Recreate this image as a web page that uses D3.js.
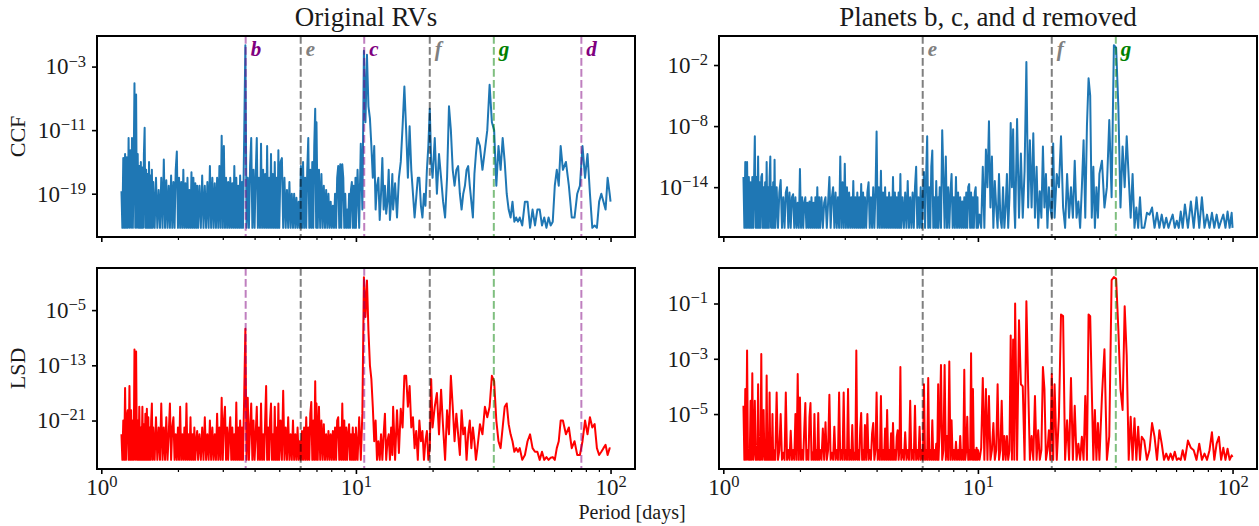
<!DOCTYPE html>
<html>
<head>
<meta charset="utf-8">
<script src="https://cdn.jsdelivr.net/npm/d3@7"></script>
<style>
  body { margin: 0; background: #fff; }
  svg { display: block; }
  text { font-family: "Liberation Serif", "Times New Roman", serif; fill: #1a1a1a; }
</style>
</head>
<body>
<svg id="chart" width="1259" height="526"></svg>
<script>
// ---------------------------------------------------------------------------
// Periodogram data: shared period grid (days) and the four power series
// ---------------------------------------------------------------------------
const periods = [
  1.20,1.21,1.22,1.23,1.24,1.25,1.26,1.27,1.28,1.29,1.30,1.31,1.32,1.33,1.34,1.35,1.36,1.37,1.38,1.39,
  1.40,1.41,1.42,1.43,1.44,1.45,1.46,1.47,1.48,1.49,1.50,1.51,1.52,1.53,1.54,1.55,1.56,1.57,1.58,1.59,
  1.60,1.62,1.64,1.66,1.68,1.70,1.72,1.74,1.76,1.78,1.80,1.82,1.84,1.86,1.88,1.90,1.92,1.94,1.96,1.98,
  2.00,2.02,2.04,2.06,2.08,2.10,2.12,2.14,2.16,2.18,2.20,2.22,2.24,2.26,2.28,2.30,2.32,2.34,2.36,2.38,
  2.40,2.43,2.46,2.49,2.52,2.55,2.58,2.61,2.64,2.67,2.70,2.73,2.76,2.79,2.82,2.85,2.88,2.91,2.94,2.97,
  3.00,3.03,3.06,3.09,3.12,3.15,3.18,3.21,3.24,3.27,3.30,3.33,3.36,3.39,3.42,3.45,3.48,3.51,3.54,3.57,
  3.60,3.64,3.68,3.72,3.76,3.80,3.84,3.88,3.92,3.96,4.00,4.04,4.08,4.12,4.16,4.20,4.24,4.28,4.32,4.36,
  4.40,4.44,4.48,4.52,4.56,4.60,4.64,4.68,4.72,4.76,4.80,4.84,4.88,4.92,4.96,
  5.00,5.06,5.12,5.18,5.24,5.30,5.36,5.42,5.48,5.54,5.60,5.66,5.72,5.78,5.84,5.90,5.96,6.02,6.08,6.14,
  6.20,6.26,6.32,6.38,6.44,6.50,6.56,6.62,6.68,6.74,6.80,6.86,6.92,6.98,
  7.00,7.08,7.16,7.24,7.32,7.40,7.48,7.56,7.64,7.72,7.80,7.88,7.96,8.04,8.12,8.20,8.28,8.36,8.44,8.52,
  8.60,8.68,8.76,8.84,8.92,9.00,9.08,9.16,9.24,9.32,9.40,9.48,9.56,9.64,9.72,9.80,9.88,9.96,
  10.00,10.15,10.30,10.45,10.60,10.75,10.90,11.05,11.20,11.35,11.50,11.65,11.80,11.95,12.10,12.25,12.40,12.55,12.70,12.85,
  13.00,13.15,13.30,13.45,13.60,13.75,13.90,
  14.00,14.25,14.50,14.75,15.00,15.25,15.50,15.75,16.00,16.25,16.50,16.75,17.00,17.25,17.50,17.75,18.00,18.25,18.50,18.75,
  19.00,19.25,19.50,19.75,
  20.0,20.4,20.8,21.2,21.6,22.0,22.4,22.8,23.2,23.6,24.0,24.4,24.8,25.2,25.6,26.0,26.4,26.8,27.2,27.6,
  28.0,28.4,28.8,29.2,29.6,
  30.0,30.7,31.4,32.1,32.8,33.5,34.2,34.9,35.6,36.3,37.0,37.7,38.4,39.1,39.8,40.5,41.2,41.9,42.6,43.3,44.0,
  45.0,46.1,47.2,48.3,49.4,50.5,51.6,52.7,53.8,54.9,56.0,57.1,58.2,59.3,60.4,61.5,62.6,63.7,
  65.0,66.8,68.6,70.4,72.2,74.0,75.8,77.6,79.4,81.2,83.0,84.8,86.6,88.4,90.2,92.0,93.8,95.6,97.4,99.2,100.0
];

// CCF periodogram of the original RVs
const ccfOriginal = [
  2e-19,5e-24,3e-15,5e-24,1e-14,5e-24,4e-15,5e-24,1e-12,5e-24,
  3e-14,5e-24,1e-12,5e-24,2e-16,8e-6,5e-24,3e-7,5e-24,1e-14,
  5e-24,3e-16,5e-24,1e-15,5e-24,2e-16,5e-24,1e-14,2e-11,5e-24,
  1e-16,5e-24,3e-17,5e-24,1e-15,5e-24,2e-17,5e-24,1e-16,5e-24,
  3e-18,5e-24,1e-17,5e-24,3e-19,5e-24,1e-17,5e-24,2e-15,5e-24,
  5e-18,5e-24,1e-18,5e-24,2e-17,5e-24,3e-18,5e-24,1e-16,2e-14,
  5e-24,1e-17,5e-24,3e-18,5e-24,1e-16,5e-24,2e-18,5e-24,1e-17,
  5e-24,3e-19,5e-24,5e-17,5e-24,1e-17,5e-24,2e-18,5e-24,1e-18,
  5e-24,1e-18,5e-24,2e-17,5e-24,1e-18,5e-24,3e-18,5e-24,3e-16,
  5e-24,1e-17,5e-24,2e-18,5e-24,1e-17,5e-24,3e-16,5e-24,2e-12,
  5e-24,1e-13,5e-24,1e-17,5e-24,3e-18,5e-24,1e-17,5e-24,2e-18,
  5e-24,3e-16,5e-24,1e-17,5e-24,1e-18,5e-24,2e-17,5e-24,3e-18,
  5e-24,1e-12,5e-1,5e-24,1e-17,5e-24,3e-16,1e-12,5e-24,1e-16,
  5e-24,3e-17,1e-12,5e-24,1e-17,5e-24,2e-13,5e-24,1e-16,5e-24,
  3e-17,5e-24,1e-13,5e-24,1e-17,5e-24,1e-14,5e-24,3e-17,5e-24,
  1e-15,5e-24,1e-17,5e-24,3e-14,
  5e-24,1e-15,3e-15,5e-24,1e-17,5e-24,3e-19,5e-24,3e-18,5e-24,
  1e-19,5e-24,1e-19,5e-24,3e-20,5e-24,1e-20,5e-24,3e-16,5e-24,
  1e-15,5e-24,1e-17,5e-24,1e-16,1e-12,5e-24,1e-16,5e-24,1e-15,
  5e-24,1e-13,5e-9,5e-24,
  1e-10,5e-24,1e-16,5e-24,3e-17,5e-24,1e-18,5e-24,3e-19,5e-24,
  1e-19,5e-24,1e-20,5e-24,3e-21,5e-24,1e-19,5e-24,1e-17,3e-16,
  5e-24,5e-16,5e-24,5e-16,1e-17,5e-24,1e-19,5e-24,1e-21,5e-24,
  1e-19,5e-24,3e-19,3e-18,5e-24,1e-18,5e-24,1e-17,
  5e-24,1e-16,5e-24,2e-13,1e-21,1e-1,1e-10,3e-2,1e-8,3e-10,
  1e-13,1e-17,1e-13,1e-21,1e-18,1e-17,5e-23,1e-19,3e-15,1e-21,
  1e-18,3e-22,1e-20,1e-16,5e-23,1e-20,3e-17,
  1e-21,2e-18,1e-22,1e-17,1e-15,3e-11,3e-6,1e-11,1e-17,3e-11,
  1e-16,1e-19,1e-22,3e-20,1e-17,1e-17,3e-21,1e-22,1e-19,3e-21,
  1e-16,1e-13,5e-9,1e-15,
  1e-17,1e-12,1e-19,1e-14,1e-17,1e-20,1e-22,1e-17,1e-8,1e-11,
  1e-16,1e-18,1e-16,3e-16,1e-19,1e-21,1e-19,1e-18,1e-16,3e-16,
  1e-18,1e-20,1e-22,3e-17,1e-14,
  1e-12,1e-13,1e-16,3e-14,1e-11,5e-6,1e-10,1e-11,1e-18,1e-13,
  1e-16,1e-12,1e-15,1e-19,1e-21,1e-22,1e-20,3e-23,1e-22,3e-23,1e-22,
  1e-23,1e-20,1e-20,5e-24,1e-21,1e-23,1e-21,1e-21,1e-23,1e-22,
  5e-24,1e-22,1e-23,3e-23,1e-18,1e-16,1e-18,1e-13,
  1e-16,1e-15,1e-18,1e-22,1e-22,1e-19,1e-18,1e-13,1e-17,1e-14,
  1e-19,5e-24,1e-23,5e-24,1e-20,1e-19,1e-20,1e-21,1e-17,1e-19,1e-20
];

// CCF periodogram after removing planets b, c and d
const ccfResidual = [
  1e-13,1e-18,3e-12,1e-18,3e-12,1e-18,1e-13,1e-18,3e-14,1e-18,
  1e-13,1e-18,3e-14,1e-9,1e-18,1e-13,1e-18,1e-11,1e-18,3e-14,
  1e-18,1e-13,2e-13,1e-18,1e-14,1e-18,3e-14,1e-18,3e-12,1e-18,
  1e-14,1e-18,1e-13,1e-11,1e-18,1e-14,1e-18,3e-14,1e-18,5e-12,
  1e-18,1e-14,1e-18,3e-15,5e-14,1e-18,1e-15,1e-18,3e-15,1e-14,
  1e-18,3e-15,1e-18,1e-15,2e-15,1e-18,1e-15,1e-18,3e-16,1e-18,
  6e-13,1e-18,1e-15,1e-18,3e-16,1e-15,1e-18,3e-16,1e-18,4e-16,
  1e-18,1e-15,1e-18,3e-16,1e-18,1e-15,1e-18,1e-14,1e-18,1e-15,
  1e-18,1e-15,1e-18,3e-16,1e-15,1e-18,3e-16,1e-13,1e-18,1e-15,
  1e-14,1e-18,3e-15,1e-18,1e-15,1e-18,1e-11,1e-18,3e-14,1e-18,
  2e-12,1e-18,1e-14,1e-18,3e-15,1e-18,1e-15,1e-18,4e-14,1e-18,
  1e-15,1e-18,3e-15,1e-18,1e-15,1e-18,2e-14,1e-18,3e-15,1e-18,
  1e-15,1e-18,3e-15,3e-14,1e-18,1e-15,1e-18,1e-14,1e-18,3e-15,
  3e-9,1e-18,1e-14,1e-18,4e-13,1e-18,3e-15,1e-18,1e-14,1e-18,
  1e-15,1e-18,3e-15,1e-18,1e-15,1e-18,1e-13,1e-18,3e-15,1e-18,
  1e-15,1e-18,3e-15,1e-18,2e-13,
  1e-18,1e-15,1e-18,3e-15,1e-18,4e-14,1e-18,1e-15,1e-18,3e-15,
  1e-18,1e-14,1e-12,1e-18,1e-15,1e-18,1e-14,1e-18,1e-15,3e-13,
  1e-18,1e-13,1e-9,1e-18,1e-14,1e-18,1e-12,4e-11,1e-18,1e-15,
  1e-18,4e-14,1e-18,1e-15,
  1e-18,1e-14,1e-18,4e-9,1e-13,1e-18,1e-11,1e-18,1e-14,1e-18,
  3e-15,2e-13,1e-18,1e-15,1e-18,1e-13,1e-18,3e-15,1e-18,1e-15,
  1e-18,4e-16,1e-18,1e-15,1e-18,3e-15,1e-18,1e-14,2e-14,1e-18,
  3e-15,1e-18,1e-15,1e-18,3e-15,1e-14,1e-18,1e-15,
  1e-18,2e-17,1e-18,1e-12,1e-18,5e-11,1e-14,3e-8,1e-16,1e-11,
  1e-18,4e-14,1e-16,1e-18,2e-13,1e-17,1e-18,1e-14,1e-18,1e-16,
  2e-13,1e-18,1e-15,2e-8,1e-14,5e-9,1e-16,
  1e-18,5e-8,1e-17,2e-11,1e-17,4e-13,2e-2,1e-16,4e-10,1e-16,
  2e-9,1e-17,1e-12,1e-18,4e-15,1e-17,1e-10,1e-16,2e-13,1e-18,
  1e-14,1e-16,1e-17,2e-10,
  1e-17,2e-13,1e-14,1e-9,1e-16,1e-18,2e-13,1e-17,1e-14,1e-17,
  4e-12,1e-17,4e-16,1e-18,1e-14,4e-10,1e-17,1e-8,5e-4,1e-5,
  1e-17,1e-12,1e-18,1e-14,1e-17,
  2e-13,4e-12,1e-16,1e-14,4e-8,1e-15,9e-1,5e-1,1e-6,1e-16,
  1e-10,1e-14,1e-9,1e-13,1e-17,2e-13,1e-18,1e-16,1e-18,1e-15,1e-18,
  1e-18,3e-17,2e-17,1e-16,1e-18,3e-17,1e-18,2e-17,1e-18,1e-17,
  1e-18,5e-18,2e-17,1e-18,5e-18,1e-18,4e-17,1e-18,
  2e-16,1e-18,4e-16,1e-18,1e-15,1e-18,1e-15,1e-18,2e-17,1e-18,
  3e-17,1e-18,2e-17,1e-18,5e-18,2e-17,1e-18,4e-17,1e-18,3e-17,1e-18
];

// LSD periodogram of the original RVs
const lsdOriginal = [
  1e-23,2e-27,1e-21,2e-27,5e-17,2e-27,3e-21,3e-20,2e-27,1e-16,
  2e-27,3e-20,2e-27,1e-21,2e-27,2e-11,2e-27,1e-11,2e-27,1e-21,
  2e-27,1e-19,2e-27,1e-22,2e-27,1e-19,2e-27,3e-22,2e-27,1e-20,
  2e-27,5e-20,2e-27,3e-21,2e-27,1e-22,2e-27,1e-21,3e-19,2e-27,
  1e-22,2e-27,3e-21,2e-27,1e-22,2e-27,3e-19,2e-27,1e-22,2e-27,
  3e-21,2e-27,1e-23,3e-19,2e-27,1e-22,3e-21,2e-27,1e-23,2e-27,
  1e-22,2e-27,1e-19,2e-27,1e-23,2e-27,1e-22,2e-27,3e-19,2e-27,
  1e-23,2e-27,3e-21,2e-27,1e-23,2e-27,1e-22,2e-27,1e-24,3e-23,
  2e-27,1e-23,2e-27,1e-22,2e-27,3e-21,2e-27,1e-23,2e-27,1e-21,
  2e-27,1e-22,2e-27,1e-23,2e-27,1e-20,2e-27,1e-22,2e-27,2e-18,
  2e-27,1e-21,1e-19,2e-27,1e-22,2e-27,1e-23,3e-21,2e-27,1e-22,
  2e-27,1e-23,2e-27,4e-19,2e-27,1e-22,2e-27,1e-21,2e-27,1e-22,
  2e-27,2e-18,2e-8,2e-27,2e-18,2e-27,1e-22,3e-19,2e-27,1e-21,
  2e-27,1e-23,1e-19,2e-27,1e-22,2e-27,3e-19,2e-27,1e-23,2e-27,
  1e-21,1e-16,2e-27,1e-22,2e-27,1e-21,3e-19,2e-27,1e-23,2e-27,
  1e-19,2e-27,1e-22,2e-27,3e-19,
  2e-27,1e-21,2e-27,2e-17,2e-27,1e-22,2e-27,3e-21,2e-27,1e-23,
  2e-27,1e-21,2e-27,1e-23,2e-27,1e-22,2e-27,1e-24,2e-27,3e-23,
  2e-27,1e-22,2e-27,3e-21,2e-27,1e-22,2e-27,1e-20,5e-19,2e-27,
  1e-21,2e-27,5e-16,2e-27,
  3e-19,2e-27,1e-19,2e-27,1e-21,2e-27,3e-22,2e-27,1e-23,2e-27,
  3e-23,2e-27,1e-23,2e-27,3e-23,2e-27,1e-22,2e-27,1e-21,3e-21,
  2e-27,1e-22,2e-27,3e-19,2e-27,1e-21,2e-27,1e-22,2e-27,1e-23,
  3e-22,2e-27,1e-23,2e-27,1e-22,2e-27,1e-23,2e-27,
  1e-22,2e-27,3e-21,2e-27,1e-20,6e-1,1e-6,2e-1,1e-8,1e-13,
  1e-15,1e-19,1e-24,1e-21,2e-27,1e-24,2e-27,1e-23,2e-27,1e-23,
  1e-20,2e-27,1e-24,1e-23,2e-27,1e-22,1e-26,
  1e-19,2e-27,3e-20,2e-26,5e-20,1e-22,3e-15,3e-15,1e-19,1e-16,
  1e-22,3e-21,1e-25,3e-23,2e-27,1e-21,1e-24,3e-23,2e-27,1e-24,
  3e-23,2e-27,1e-25,1e-15,
  1e-22,1e-19,1e-17,1e-23,3e-17,1e-22,2e-27,3e-20,1e-23,3e-15,
  1e-19,1e-24,1e-20,1e-23,1e-26,3e-20,1e-23,1e-22,2e-27,1e-23,
  1e-21,1e-25,1e-22,1e-24,2e-27,
  1e-25,3e-22,1e-23,1e-19,3e-21,1e-19,3e-15,5e-16,1e-21,1e-24,
  1e-25,1e-22,1e-19,3e-19,3e-22,1e-23,1e-24,3e-26,1e-25,3e-26,1e-25,
  2e-27,1e-26,1e-24,1e-23,1e-25,3e-26,3e-26,2e-27,3e-26,2e-27,
  5e-27,2e-27,4e-27,5e-27,2e-27,1e-25,1e-24,1e-21,
  1e-21,1e-23,1e-22,1e-25,1e-24,1e-26,1e-26,1e-24,1e-21,1e-23,
  3e-21,1e-22,3e-22,1e-25,1e-26,3e-26,1e-25,3e-25,1e-26,1e-25,1e-25
];

// LSD periodogram after removing planets b, c and d
const lsdResidual = [
  2e-5,2.2e-7,8e-5,2.2e-7,2e-3,2.2e-7,5e-7,2.2e-7,3e-5,2.2e-7,
  3e-4,2.2e-7,5e-7,3e-5,2.2e-7,5e-7,2.2e-7,1.2e-4,2.2e-7,5e-7,
  2.2e-7,1.5e-3,2.2e-7,5e-7,1.4e-5,2.2e-7,5e-7,2.2e-7,2.5e-4,2.2e-7,
  5e-7,2.2e-7,6e-5,2.2e-7,4e-7,2.2e-7,1e-5,2.2e-7,5e-7,2.2e-7,
  2.2e-7,6e-5,2.2e-7,5e-7,1e-5,2.2e-7,4e-7,2.2e-7,6e-5,2.2e-7,
  5e-7,2.2e-7,2.5e-6,2.2e-7,5e-7,2.2e-7,1e-5,2.2e-7,2.8e-4,2.2e-7,
  4e-5,2.2e-7,5e-7,2.2e-7,3e-6,2.5e-5,2.2e-7,5e-7,2.2e-7,8e-6,
  2.5e-5,2.2e-7,4e-7,2.2e-7,1e-5,2.2e-7,5e-7,2.2e-7,1.1e-5,2.2e-7,
  5e-7,2.2e-7,3e-6,2.2e-7,5e-6,2.2e-7,5e-7,5e-5,2.2e-7,4e-7,
  2.2e-7,3.5e-6,2.2e-7,5e-7,2.2e-7,6e-5,2.2e-7,5e-7,2.2e-7,6e-5,
  2.2e-7,5e-7,2.2e-7,8e-5,2.2e-7,5e-7,2.2e-7,4e-6,2.2e-7,4e-7,
  2.2e-7,2e-3,2.2e-7,5e-7,2.2e-7,3e-6,1.1e-5,2.2e-7,5e-7,2.2e-7,
  4e-6,2.2e-7,1e-5,2.2e-7,5e-7,2.2e-7,2e-6,4.7e-6,2.2e-7,5e-7,
  6e-5,2.2e-7,5e-7,2.2e-7,4.5e-5,2.2e-7,5e-7,2.2e-7,3e-6,2.2e-7,
  1.4e-5,2.2e-7,5e-7,2.2e-7,2e-6,2.2e-7,4.7e-6,2.2e-7,5e-7,2.2e-7,
  1.5e-6,2.6e-6,2.2e-7,5e-7,5e-4,
  2.2e-7,5e-7,2.2e-7,2.2e-6,2.2e-7,5e-7,2.2e-7,3e-5,2.2e-7,5e-7,
  2.2e-7,2e-5,2.2e-7,5e-7,2.2e-7,3.5e-6,2.2e-7,5e-7,2.2e-7,1.2e-4,
  2.2e-7,5e-7,2.2e-7,2e-4,2.2e-7,5e-7,2.2e-7,6e-6,2.2e-7,5e-7,
  2.2e-7,8.5e-7,2.2e-7,1.2e-4,
  2.2e-7,3e-6,6e-4,2.2e-7,5e-7,6e-4,2.2e-7,1.6e-6,2.2e-7,8e-4,
  2.2e-7,6e-6,2.2e-7,5e-7,2.2e-7,1e-6,2.2e-7,5e-7,2.2e-7,1.6e-6,
  2.2e-7,5e-7,2.2e-7,4e-4,2.2e-7,5e-7,8e-6,2.2e-7,5e-7,2.2e-7,
  1.6e-3,2.2e-7,8e-5,2.2e-7,5e-7,2.2e-7,6e-7,2.2e-7,
  5e-7,2.2e-7,6e-7,2e-4,2.2e-7,8e-5,2.2e-7,4.5e-5,2.2e-7,5e-7,
  4.7e-6,2.2e-7,5e-7,1.2e-4,2.2e-7,5e-7,3e-5,2.2e-7,1.6e-6,2.2e-7,
  1.6e-6,2.2e-7,5e-7,7e-3,2.2e-7,5e-3,2.2e-7,
  1e-1,2.2e-7,2.5e-2,1.2e-4,1e-4,2.2e-7,1.2e-1,1.2e-4,2.2e-7,1.6e-6,
  2.2e-7,4.5e-5,2.2e-7,2.6e-6,2.2e-7,5e-7,5e-4,8e-5,2.2e-7,5e-7,
  2.6e-6,2.2e-7,2.8e-4,2.2e-7,
  1.2e-4,2.2e-7,8e-6,4e-2,3.5e-2,2.2e-7,6e-6,2.2e-7,2e-4,2.2e-7,
  2e-5,2.2e-7,8.5e-7,2.2e-7,1.5e-6,2.2e-7,4.5e-5,2.2e-7,4e-2,3.5e-2,
  8e-5,2.2e-7,1.4e-5,2.2e-7,4.7e-6,
  2.2e-7,4.5e-5,2.2e-3,2.2e-7,1.6e-6,7e-1,9e-1,8e-1,1.2e-2,8e-5,
  1.4e-5,8e-2,1.3e-3,2.2e-7,8e-6,2.2e-7,7e-6,2.2e-7,3.5e-6,2.2e-7,1.5e-6,
  1.1e-6,2.2e-7,5e-7,4.7e-6,1.5e-6,2.2e-7,2.6e-6,8.5e-7,2.2e-7,3.7e-7,
  2.2e-7,3.7e-7,2.2e-7,4.3e-7,2.2e-7,2.5e-7,2.2e-7,4.9e-7,
  2.2e-7,1.1e-6,6e-7,4.9e-7,2.2e-7,8.5e-7,2.2e-7,3.7e-7,2.2e-7,4.9e-7,
  2.2e-6,2.2e-7,8.5e-7,1.5e-6,2.2e-7,6e-7,2.2e-7,5.6e-7,2.2e-7,3.2e-7,2.8e-7
];

// Known planet periods (days) marked on every panel
const planetNames   = ["b", "e", "c", "f", "g", "d"];
const planetPeriods = [3.69, 6.07, 10.78, 19.5, 34.8, 76.8];
const residualPlanetNames = ["e", "f", "g"];

// Tick values
const xMajorTicks = [1, 10, 100];
const xMinorTicks = [2, 3, 4, 5, 6, 7, 8, 9, 20, 30, 40, 50, 60, 70, 80, 90];
const ccfOriginalTicks = [1e-3, 1e-11, 1e-19];
const ccfResidualTicks = [1e-2, 1e-8, 1e-14];
const lsdOriginalTicks = [1e-5, 1e-13, 1e-21];
const lsdResidualTicks = [1e-1, 1e-3, 1e-5];

// ---------------------------------------------------------------------------
// Layout and styling
// ---------------------------------------------------------------------------
const cols = [{ x0: 97, x1: 635 }, { x0: 719, x1: 1257 }];
const rows = [{ y0: 36, y1: 237 }, { y0: 268, y1: 469 }];
const MARGIN_FRAC = 0.05;           // log-space padding around the data
const planetStyle = {
  b: { line: "purple", text: "purple" },
  c: { line: "purple", text: "purple" },
  d: { line: "purple", text: "purple" },
  e: { line: "black",  text: "#808080" },
  f: { line: "black",  text: "#808080" },
  g: { line: "green",  text: "green" }
};
const BLUE = "#1f77b4", RED = "#ff0000";
const TICK_FONT = 23, LABEL_FONT = 22, TITLE_FONT = 27;

const panels = [
  { values: ccfOriginal, row: 0, col: 0, color: BLUE, ticks: ccfOriginalTicks,
    ylabel: "CCF", title: "Original RVs", planets: planetNames, showNames: true },
  { values: ccfResidual, row: 0, col: 1, color: BLUE, ticks: ccfResidualTicks,
    title: "Planets b, c, and d removed", planets: residualPlanetNames, showNames: true },
  { values: lsdOriginal, row: 1, col: 0, color: RED, ticks: lsdOriginalTicks,
    ylabel: "LSD", planets: planetNames, showNames: false },
  { values: lsdResidual, row: 1, col: 1, color: RED, ticks: lsdResidualTicks,
    planets: residualPlanetNames, showNames: false }
];

function paddedLogDomain(ext, frac) {
  const a = Math.log10(ext[0]), b = Math.log10(ext[1]);
  const pad = (b - a) * frac;
  return [Math.pow(10, a - pad), Math.pow(10, b + pad)];
}

// "10" with a superscript exponent, written into an existing <text>
function powerLabel(sel, value) {
  const exp = Math.round(Math.log10(value));
  sel.text(null);
  sel.append("tspan").text("10");
  sel.append("tspan")
    .attr("dy", "-0.48em")
    .attr("font-size", "0.72em")
    .text(exp < 0 ? "\u2212" + Math.abs(exp) : String(exp));
}

const svg = d3.select("#chart");

panels.forEach(p => {
  const c = cols[p.col], r = rows[p.row];
  const x = d3.scaleLog()
    .domain(paddedLogDomain(d3.extent(periods), MARGIN_FRAC))
    .range([c.x0, c.x1]);
  const y = d3.scaleLog()
    .domain(paddedLogDomain(d3.extent(p.values), MARGIN_FRAC))
    .range([r.y1, r.y0]);

  const g = svg.append("g");

  // periodogram trace
  const pts = periods.map((per, i) => [per, p.values[i]]);
  g.append("path")
    .datum(pts)
    .attr("fill", "none")
    .attr("stroke", p.color)
    .attr("stroke-width", 2)
    .attr("stroke-linejoin", "round")
    .attr("d", d3.line().x(d => x(d[0])).y(d => y(d[1])));

  // planet period markers
  p.planets.forEach(name => {
    const per = planetPeriods[planetNames.indexOf(name)];
    const px = x(per);
    g.append("line")
      .attr("x1", px).attr("x2", px)
      .attr("y1", r.y0).attr("y2", r.y1)
      .attr("stroke", planetStyle[name].line)
      .attr("stroke-opacity", 0.5)
      .attr("stroke-width", 2)
      .attr("stroke-dasharray", "7.7,3.3");
    if (p.showNames) {
      g.append("text")
        .attr("x", px + 5)
        .attr("y", r.y0 + 20)
        .attr("font-size", 21)
        .attr("font-weight", "bold")
        .attr("font-style", "italic")
        .style("fill", planetStyle[name].text)
        .text(name);
    }
  });

  // x axis: major + minor ticks
  const xMajor = d3.axisBottom(x).tickValues(xMajorTicks).tickSize(5).tickPadding(5);
  const xAxisG = g.append("g").attr("transform", `translate(0,${r.y1})`).call(xMajor);
  xAxisG.select(".domain").remove();
  xAxisG.selectAll(".tick line").attr("stroke-width", 1.6);
  if (p.row === 1) {
    xAxisG.selectAll(".tick text")
      .attr("font-size", TICK_FONT)
      .attr("font-family", "Liberation Serif, serif")
      .each(function (d) { powerLabel(d3.select(this), d); });
  } else {
    xAxisG.selectAll(".tick text").remove();
  }
  const xMinor = d3.axisBottom(x).tickValues(xMinorTicks).tickSize(3).tickFormat("");
  const xMinorG = g.append("g").attr("transform", `translate(0,${r.y1})`).call(xMinor);
  xMinorG.select(".domain").remove();
  xMinorG.selectAll(".tick line").attr("stroke-width", 1.2);

  // y axis
  const yAxis = d3.axisLeft(y).tickValues(p.ticks).tickSize(5).tickPadding(6);
  const yAxisG = g.append("g").attr("transform", `translate(${c.x0},0)`).call(yAxis);
  yAxisG.select(".domain").remove();
  yAxisG.selectAll(".tick line").attr("stroke-width", 1.6);
  yAxisG.selectAll(".tick text")
    .attr("font-size", TICK_FONT)
    .attr("font-family", "Liberation Serif, serif")
    .each(function (d) { powerLabel(d3.select(this), d); });

  // frame
  g.append("rect")
    .attr("x", c.x0).attr("y", r.y0)
    .attr("width", c.x1 - c.x0).attr("height", r.y1 - r.y0)
    .attr("fill", "none").attr("stroke", "#000").attr("stroke-width", 2);

  if (p.title) {
    g.append("text")
      .attr("x", (c.x0 + c.x1) / 2).attr("y", r.y0 - 10.5)
      .attr("text-anchor", "middle")
      .attr("font-size", TITLE_FONT)
      .text(p.title);
  }
  if (p.ylabel) {
    g.append("text")
      .attr("transform", `translate(25,${(r.y0 + r.y1) / 2}) rotate(-90)`)
      .attr("text-anchor", "middle")
      .attr("font-size", LABEL_FONT)
      .text(p.ylabel);
  }
});

svg.append("text")
  .attr("x", 632).attr("y", 519)
  .attr("text-anchor", "middle")
  .attr("font-size", 20)
  .text("Period [days]");
</script>
</body>
</html>
